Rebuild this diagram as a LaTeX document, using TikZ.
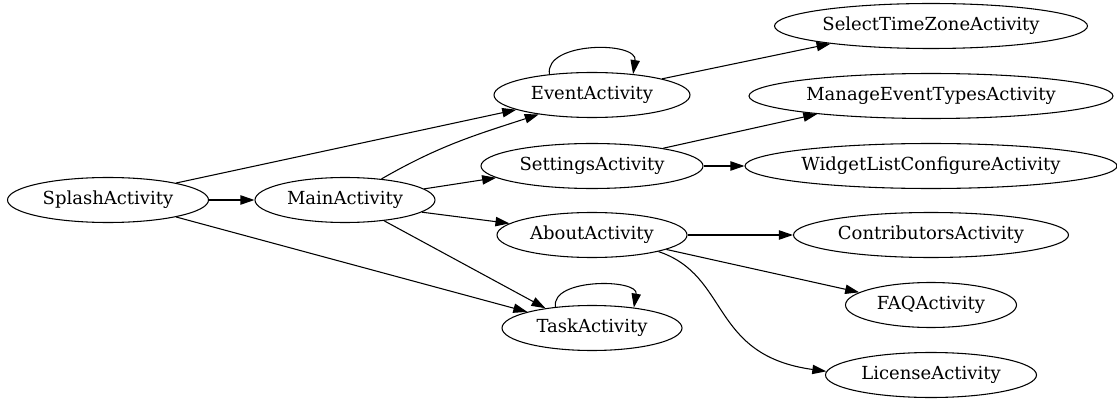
\documentclass[tikz,border=0pt]{standalone}
\usepackage{fontspec}
\setmainfont{DejaVu Serif}
\usetikzlibrary{shapes.geometric,arrows.meta}

\begin{document}
\begin{tikzpicture}[x=0.75pt,y=-0.75pt]
\tikzstyle{activity}=[ellipse,draw,line width=0.8pt,inner sep=0pt,minimum height=33.75pt,font=\fontsize{13.5}{16}\selectfont]
\tikzstyle{wd}=[minimum width=#1*0.75pt]
\tikzstyle{link}=[draw,line width=0.8pt,-{Triangle[length=10.5pt,width=7pt]}]
\useasboundingbox (0,0) rectangle (1117,399);
% first column
\node[activity,wd=201] (splash) at (108,200) {SplashActivity};
\node[activity,wd=180] (main) at (345,200) {MainActivity};
% middle column
\node[activity,wd=196] (event) at (592,95) {EventActivity};
\node[activity,wd=222] (settings) at (592,166) {SettingsActivity};
\node[activity,wd=190] (about) at (592,235) {AboutActivity};
\node[activity,wd=180] (task) at (592,328) {TaskActivity};
% right column
\node[activity,wd=313] (timezone) at (931,26) {SelectTimeZoneActivity};
\node[activity,wd=364] (eventtypes) at (931,96) {ManageEventTypesActivity};
\node[activity,wd=372] (widgetlist) at (931,166) {WidgetListConfigureActivity};
\node[activity,wd=275] (contributors) at (931,235) {ContributorsActivity};
\node[activity,wd=171] (faq) at (931,305) {FAQActivity};
\node[activity,wd=211] (license) at (931,375) {LicenseActivity};

\path[link] (splash) -- (main);
\path[link] (splash.14) -- (event.191);
\path[link] (splash.-14) -- (task.166);
\path[link] (main.30) to[out=30,in=198] (event.200);
\path[link] (main.8) -- (settings.187);
\path[link] (main.-9) -- (about.172);
\path[link] (main.-28) -- (task.157);
\path[link] (event.154) .. controls +(-5,-33) and +(5,-33) .. (event.27);
\path[link] (event.13) -- (timezone.190);
\path[link] (settings.14) -- (eventtypes.189);
\path[link] (settings) -- (widgetlist);
\path[link] (about) -- (contributors);
\path[link] (about.-11) -- (faq.170);
\path[link] (about.-14) .. controls +(72,24) and +(-117,-16) .. (license.178);
\path[link] (task.150) .. controls +(-5,-29) and +(5,-29) .. (task.26);
\end{tikzpicture}
\end{document}
